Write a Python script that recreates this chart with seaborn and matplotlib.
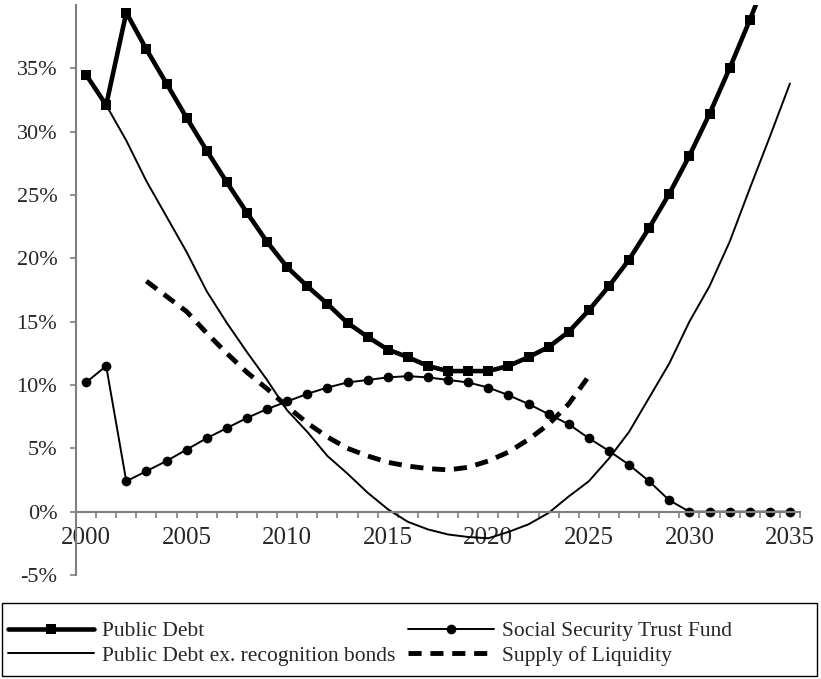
import numpy as np
import pandas as pd
import seaborn as sns
import matplotlib
matplotlib.use("Agg")
import matplotlib.pyplot as plt
from matplotlib.patches import Rectangle
from matplotlib.ticker import PercentFormatter, MultipleLocator

# datos (en %)
years = list(range(2000, 2036))

public_debt = [34.5, 32.1, 39.4, 36.5, 33.8, 31.1, 28.5, 26.0, 23.6, 21.3,
               19.3, 17.8, 16.4, 14.9, 13.8, 12.8, 12.2, 11.5, 11.1, 11.1,
               11.1, 11.5, 12.2, 13.0, 14.2, 15.9, 17.8, 19.9, 22.4, 25.1,
               28.1, 31.4, 35.0, 38.8, 42.8, 47.0]

ss_trust_fund = [10.2, 11.5, 2.4, 3.2, 4.0, 4.9, 5.8, 6.6, 7.4, 8.1,
                 8.7, 9.3, 9.8, 10.2, 10.4, 10.6, 10.7, 10.6, 10.4, 10.2,
                 9.8, 9.2, 8.5, 7.7, 6.9, 5.8, 4.8, 3.7, 2.4, 0.9,
                 0.0, 0.0, 0.0, 0.0, 0.0, 0.0]

exrec_years = list(range(2001, 2036))
debt_ex_recognition = [32.1, 29.3, 26.1, 23.3, 20.5, 17.4, 14.9, 12.6, 10.4,
                       8.0, 6.3, 4.4, 3.0, 1.5, 0.2, -0.8, -1.4, -1.8, -2.0,
                       -2.1, -1.6, -1.0, -0.1, 1.2, 2.4, 4.2, 6.3, 9.0, 11.7,
                       15.0, 17.8, 21.3, 25.5, 29.6, 33.8]

liq_years = list(range(2003, 2026))
supply_liquidity = [18.2, 17.0, 15.8, 14.1, 12.5, 11.0, 9.7, 8.3, 7.0, 5.9,
                    5.0, 4.4, 3.9, 3.6, 3.4, 3.3, 3.5, 4.0, 4.7, 5.7,
                    6.9, 8.5, 10.7]

sns.set_style("white")
plt.rcParams['font.family'] = ['Liberation Serif', 'DejaVu Serif']
plt.rcParams['axes.unicode_minus'] = False

fig = plt.figure(figsize=(8.21, 6.79), dpi=100)
ax = fig.add_axes([76/821, 104/679, 724/821, 570/679])

sns.lineplot(x=years, y=public_debt, ax=ax, color="black", linewidth=3.3,
             marker="s", markersize=7.5, markeredgewidth=0, label="Public Debt")
sns.lineplot(x=years, y=ss_trust_fund, ax=ax, color="black", linewidth=1.4,
             marker="o", markersize=7, markeredgewidth=0,
             label="Social Security Trust Fund")
sns.lineplot(x=exrec_years, y=debt_ex_recognition, ax=ax, color="black",
             linewidth=1.4, label="Public Debt ex. recognition bonds")
liq = sns.lineplot(x=liq_years, y=supply_liquidity, ax=ax, color="black",
                   linewidth=3.5, label="Supply of Liquidity")
liq.lines[-1].set_dashes((2.7, 1.8))
liq.lines[-1].set_dash_capstyle("butt")

ax.set_xlim(1999.5, 2035.5)
ax.set_ylim(-5, 40)

# ejes estilo excel
ax.spines["top"].set_visible(False)
ax.spines["right"].set_visible(False)
ax.spines["bottom"].set_position(("data", 0))
for s in ["bottom", "left"]:
    ax.spines[s].set_color("#7f7f7f")
    ax.spines[s].set_linewidth(1.5)

ax.set_yticks(np.arange(-5, 36, 5))
ax.yaxis.set_major_formatter(PercentFormatter(xmax=100, decimals=0))
ax.tick_params(axis="y", left=True, length=4.5, width=1.2, color="#7f7f7f",
               labelsize=16, pad=9)

ax.set_xticks(list(range(2000, 2036, 5)))
ax.xaxis.set_minor_locator(MultipleLocator(1, offset=0.5))
ax.tick_params(axis="x", which="major", length=0, labelsize=18, pad=11)
ax.tick_params(axis="x", which="minor", bottom=True, length=4, width=1.2,
               color="#7f7f7f", direction="out")

# leyenda en dos filas: orden como en el original
ax.legend_.remove()
handles, labels = ax.get_legend_handles_labels()
order = [0, 2, 1, 3]
leg = fig.legend([handles[i] for i in order], [labels[i] for i in order],
                 loc="upper left", ncol=2,
                 bbox_to_anchor=(3/821, 1 - 616/679),
                 frameon=False, fontsize=15.5, handlelength=4.0,
                 handletextpad=0.35, borderpad=0.25, labelspacing=0.2,
                 borderaxespad=0, columnspacing=0.6)

# marco de la leyenda a todo el ancho
fig.patches.append(Rectangle((2/821, 3/679), 815/821, 73/679,
                             transform=fig.transFigure, fill=False,
                             edgecolor="black", linewidth=1))

fig.savefig("out.png", dpi=100)
